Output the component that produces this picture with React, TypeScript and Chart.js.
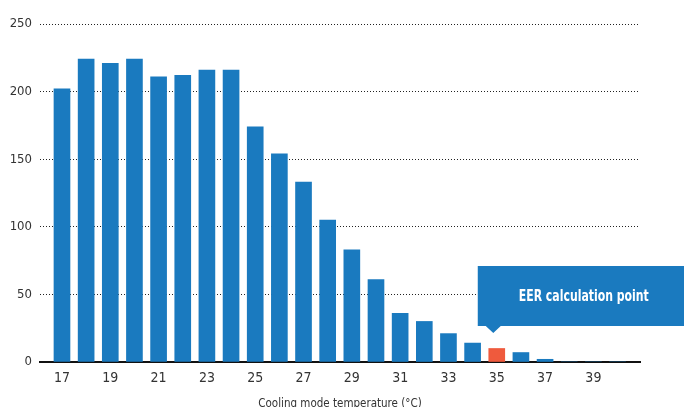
import React, { useEffect, useRef } from "react";
import { Chart, registerables } from "chart.js";

Chart.register(...registerables);

const temperatures = [17, 18, 19, 20, 21, 22, 23, 24, 25, 26, 27, 28, 29, 30, 31, 32, 33, 34, 35, 36, 37, 38, 39, 40];
const hours = [202, 224, 221, 224, 211, 212, 216, 216, 174, 154, 133, 105, 83, 61, 36, 30, 21, 14, 10, 7, 2, 0, 0, 0];
const xTickLabels = [17, 19, 21, 23, 25, 27, 29, 31, 33, 35, 37, 39];
const highlightTemp = 35;
const calloutText = "EER calculation point";
const xTitle = "Cooling mode temperature (°C)";

const BLUE = "#1a7abf";
const RED = "#ef5a3d";
const FONT = '"DejaVu Sans Condensed", "Liberation Sans", sans-serif';

const calloutPlugin = {
  id: "callout",
  afterDraw(chart: any) {
    const { ctx, chartArea } = chart;
    const xs = chart.scales.x;
    const px = xs.getPixelForValue(highlightTemp);
    const bottom = chartArea.bottom;
    const boxLeft = px - 19;
    const boxTop = bottom - 96;
    const boxBottom = bottom - 36;
    const right = chart.width;
    ctx.save();
    ctx.fillStyle = BLUE;
    ctx.beginPath();
    ctx.moveTo(boxLeft, boxTop);
    ctx.lineTo(right, boxTop);
    ctx.lineTo(right, boxBottom);
    ctx.lineTo(px + 4, boxBottom);
    ctx.lineTo(px - 3.5, bottom - 29);
    ctx.lineTo(px - 11, boxBottom);
    ctx.lineTo(boxLeft, boxBottom);
    ctx.closePath();
    ctx.fill();
    ctx.fillStyle = "#ffffff";
    ctx.font = "bold 16px " + FONT;
    ctx.textAlign = "center";
    ctx.textBaseline = "middle";
    const w = ctx.measureText(calloutText).width;
    const sx = 130 / w;
    const cx = px + 87;
    const cy = (boxTop + boxBottom) / 2 + 1;
    ctx.translate(cx, cy);
    ctx.scale(sx, 1);
    ctx.fillText(calloutText, 0, 0);
    ctx.restore();
  },
};

export default function App() {
  const ref = useRef<HTMLCanvasElement | null>(null);
  useEffect(() => {
    if (!ref.current) return;
    const chart = new Chart(ref.current, {
      type: "bar",
      data: {
        datasets: [
          {
            data: temperatures.map((t, i) => ({ x: t, y: hours[i] })) as any,
            backgroundColor: temperatures.map((t) => (t === highlightTemp ? RED : BLUE)),
            barThickness: 16,
          },
        ],
      },
      options: {
        animation: false,
        responsive: false,
        maintainAspectRatio: false,
        layout: { padding: { top: 24, right: 44, bottom: -4, left: 0 } },
        plugins: { legend: { display: false }, tooltip: { enabled: false } },
        scales: {
          x: {
            type: "linear",
            offset: false,
            min: 16.09,
            max: 40.93,
            afterBuildTicks: (scale: any) => {
              scale.ticks = xTickLabels.map((v) => ({ value: v }));
            },
            afterFit: (scale: any) => {
              scale.height = 49;
            },
            grid: { display: false, drawTicks: false, offset: false },
            border: { display: true, color: "#111", width: 2 },
            ticks: {
              color: "#333",
              font: { family: FONT, size: 14 },
              padding: 8,
              maxRotation: 0,
              autoSkip: false,
              callback: (v: any) => String(v),
            },
            title: {
              display: true,
              text: xTitle,
              color: "#333",
              font: { family: FONT, size: 11.5 },
              padding: { top: 0, bottom: 0 },
            },
          },
          y: {
            min: 0,
            max: 250,
            afterFit: (scale: any) => {
              scale.width = 40;
            },
            grid: { color: "#222", lineWidth: 1, drawTicks: false },
            border: { display: false, dash: [1, 2] },
            ticks: {
              stepSize: 50,
              color: "#333",
              font: { family: FONT, size: 13 },
              padding: 8,
            },
          },
        },
      },
      plugins: [calloutPlugin],
    });
    return () => chart.destroy();
  }, []);
  return (
    <div style={{ position: "fixed", left: 0, top: 0, width: 684, height: 407, background: "#fff" }}>
      <canvas ref={ref} width={684} height={407} style={{ width: 684, height: 407, display: "block" }} />
    </div>
  );
}
